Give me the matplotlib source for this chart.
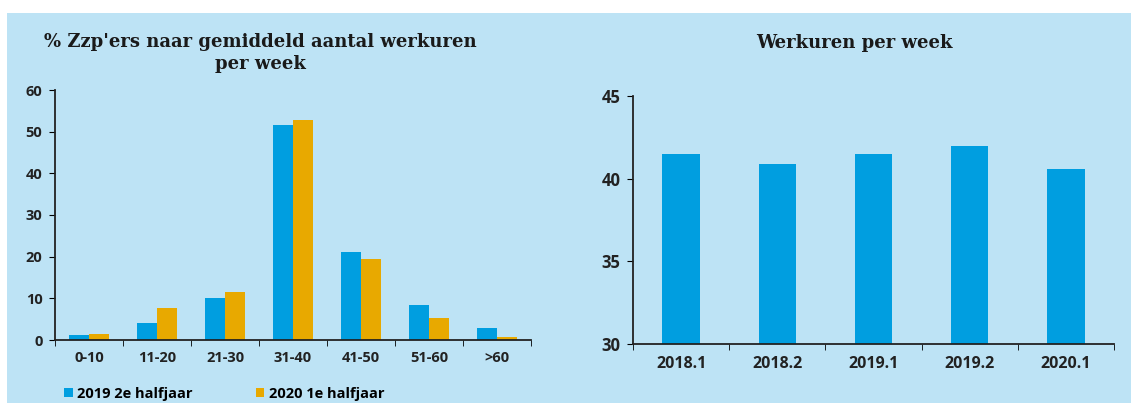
import numpy as np
import matplotlib.pyplot as plt
from matplotlib.patches import Rectangle

# data
klassen = ['0-10', '11-20', '21-30', '31-40', '41-50', '51-60', '>60']
h2_2019 = [1.2, 4.0, 10.1, 51.5, 21.2, 8.3, 3.0]
h1_2020 = [1.5, 7.6, 11.5, 52.9, 19.4, 5.4, 0.8]

perioden = ['2018.1', '2018.2', '2019.1', '2019.2', '2020.1']
werkuren = [41.5, 40.9, 41.5, 42.0, 40.6]

bg = '#bde3f5'
blauw = '#009ee0'
oranje = '#e8a900'
tick_font = 'Open Sans'

fig = plt.figure(figsize=(11.31, 4.03), dpi=100)
fig.patch.set_facecolor('white')
fig.patches.append(Rectangle((7/1131, 0), 1, (403-13)/403, transform=fig.transFigure,
                             facecolor=bg, edgecolor='none', zorder=-10))


def style_labels(labels, size):
    for lab in labels:
        lab.set_fontfamily(tick_font)
        lab.set_fontweight('bold')
        lab.set_fontsize(size)
        lab.set_color('#222222')


# linker grafiek
ax1 = fig.add_axes([55/1131, (403-340)/403, (531-55)/1131, 250/403])
ax1.set_facecolor('none')
x = np.arange(len(klassen))
w = 0.29
ax1.bar(x - w/2, h2_2019, w, color=blauw, label='2019 2e halfjaar')
ax1.bar(x + w/2, h1_2020, w, color=oranje, label='2020 1e halfjaar')
ax1.set_xlim(-0.5, len(klassen) - 0.5)
ax1.set_ylim(0, 60)
ax1.set_yticks(range(0, 61, 10))
ax1.set_xticks(x)
ax1.set_xticklabels(klassen)
ax1.set_xticks(np.arange(-0.5, len(klassen), 1), minor=True)
ax1.tick_params(axis='x', which='major', length=0, pad=8)
ax1.tick_params(axis='x', which='minor', length=4, direction='out')
ax1.tick_params(axis='y', length=4, pad=5)
style_labels(ax1.get_xticklabels(), 10.5)
style_labels(ax1.get_yticklabels(), 10.5)
for s in ['top', 'right']:
    ax1.spines[s].set_visible(False)
for s in ['left', 'bottom']:
    ax1.spines[s].set_linewidth(1.3)
    ax1.spines[s].set_color('#222222')

fig.text(260/1131, 1 - 53/403, "% Zzp'ers naar gemiddeld aantal werkuren\nper week",
         ha='center', va='center', family='DejaVu Serif', fontweight='bold',
         fontsize=13, linespacing=1.25, color='#1a1a1a')

leg = ax1.legend(loc='upper left', bbox_to_anchor=(-0.008, -0.135), ncol=2, frameon=False,
                 handlelength=0.6, handleheight=0.6, handletextpad=0.3, columnspacing=4.3,
                 prop={'family': tick_font, 'weight': 'bold', 'size': 10.5})

# rechter grafiek
ax2 = fig.add_axes([633/1131, (403-344)/403, (1114-633)/1131, 248/403])
ax2.set_facecolor('none')
x2 = np.arange(len(perioden))
ax2.bar(x2, werkuren, 0.39, color=blauw)
ax2.set_xlim(-0.5, len(perioden) - 0.5)
ax2.set_ylim(30, 45)
ax2.set_yticks([30, 35, 40, 45])
ax2.set_xticks(x2)
ax2.set_xticklabels(perioden)
ax2.set_xticks(np.arange(-0.5, len(perioden), 1), minor=True)
ax2.tick_params(axis='x', which='major', length=0, pad=9)
ax2.tick_params(axis='x', which='minor', length=4, direction='out')
ax2.tick_params(axis='y', length=4, pad=5)
style_labels(ax2.get_xticklabels(), 11.5)
style_labels(ax2.get_yticklabels(), 12)
for s in ['top', 'right']:
    ax2.spines[s].set_visible(False)
for s in ['left', 'bottom']:
    ax2.spines[s].set_linewidth(1.3)
    ax2.spines[s].set_color('#222222')

fig.text(854/1131, 1 - 43/403, 'Werkuren per week', ha='center', va='center',
         family='DejaVu Serif', fontweight='bold', fontsize=13, color='#1a1a1a')

fig.savefig('out.png', dpi=100, facecolor=fig.get_facecolor())
